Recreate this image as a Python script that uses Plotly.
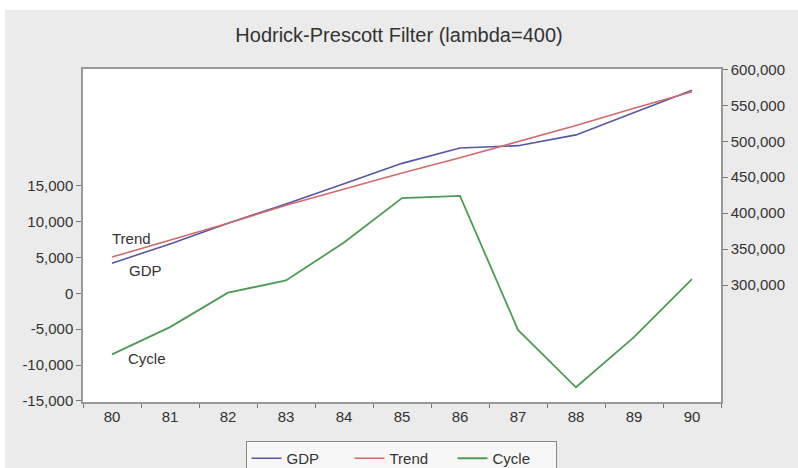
import plotly.graph_objects as go

years = ["80", "81", "82", "83", "84", "85", "86", "87", "88", "89", "90"]
gdp = [330500, 357300, 386100, 412800, 441100, 469300, 490600, 493900, 508900, 539900, 571000]
trend = [339000, 362000, 386000, 411000, 434000, 456000, 477000, 499000, 522000, 546000, 569000]
cycle = [-8500, -4700, 100, 1800, 7100, 13300, 13600, -5100, -13100, -6100, 2000]

left_ticks = [-15000, -10000, -5000, 0, 5000, 10000, 15000]
left_labels = ["-15,000", "-10,000", "-5,000", "0", "5,000", "10,000", "15,000"]
right_ticks = [300000, 350000, 400000, 450000, 500000, 550000, 600000]
right_labels = ["300,000", "350,000", "400,000", "450,000", "500,000", "550,000", "600,000"]

FONT = "Liberation Sans, Arial, sans-serif"
TXT = "#333333"

fig = go.Figure()
fig.add_trace(go.Scatter(x=years, y=gdp, name="GDP", mode="lines",
                         line=dict(color="#5656a8", width=1.6), yaxis="y2"))
fig.add_trace(go.Scatter(x=years, y=trend, name="Trend", mode="lines",
                         line=dict(color="#d36a6a", width=1.6), yaxis="y2"))
fig.add_trace(go.Scatter(x=years, y=cycle, name="Cycle", mode="lines",
                         line=dict(color="#4f9a55", width=1.8), yaxis="y"))

W, H = 798, 468
L, R, T, B = 83, 77, 69, 66
pw, ph = W - L - R, H - T - B

def px(x):
    return (x - L) / pw

def py(y):
    return (H - B - y) / ph

# white strips at the top and left edge of the screenshot
fig.add_shape(type="rect", xref="paper", yref="paper",
              x0=px(-5), x1=px(W + 5), y0=py(10), y1=py(-5),
              fillcolor="white", line=dict(width=0), layer="below")
fig.add_shape(type="rect", xref="paper", yref="paper",
              x0=px(-5), x1=px(5), y0=py(H + 5), y1=py(-5),
              fillcolor="white", line=dict(width=0), layer="below")

fig.update_layout(
    width=W, height=H,
    margin=dict(l=L, r=R, t=T, b=B, autoexpand=False),
    paper_bgcolor="#ebebeb", plot_bgcolor="white",
    font=dict(family=FONT, size=15, color=TXT),
    title=dict(text="Hodrick-Prescott Filter (lambda=400)", x=px(402), xanchor="center",
               y=1 - 35 / H, yanchor="middle", font=dict(size=20, color=TXT)),
    xaxis=dict(type="category", range=[-0.5, 10.5], tickson="boundaries",
               ticks="outside", ticklen=4, tickcolor="#777777",
               showline=True, linecolor="#999999", linewidth=1.5, mirror=True,
               showgrid=False, zeroline=False, tickfont=dict(size=15, color=TXT)),
    yaxis=dict(range=[-15150, 31300], tickvals=left_ticks, ticktext=left_labels,
               ticks="outside", ticklen=5, tickcolor="#777777",
               showline=True, linecolor="#999999", linewidth=1.5,
               showgrid=False, zeroline=False, tickfont=dict(size=15, color=TXT)),
    yaxis2=dict(range=[137500, 600500], tickvals=right_ticks, ticktext=right_labels,
                overlaying="y", side="right",
                ticks="outside", ticklen=5, tickcolor="#777777",
                showline=True, linecolor="#999999", linewidth=1.5,
                showgrid=False, zeroline=False, tickfont=dict(size=15, color=TXT)),
    showlegend=True,
    legend=dict(orientation="h", x=px(401), xanchor="center", y=py(441), yanchor="top",
                bgcolor="#f7f7f7", bordercolor="#888888", borderwidth=1,
                entrywidth=58, font=dict(size=15, color=TXT)),
)

fig.add_annotation(x=0, y=7600, xref="x", yref="y", text="Trend", showarrow=False,
                   xshift=19, font=dict(size=15, color=TXT))
fig.add_annotation(x=0, y=3200, xref="x", yref="y", text="GDP", showarrow=False,
                   xshift=33, font=dict(size=15, color=TXT))
fig.add_annotation(x=0, y=-9100, xref="x", yref="y", text="Cycle", showarrow=False,
                   xshift=35, font=dict(size=15, color=TXT))

fig.write_html("out.html", config={"displayModeBar": False},
               post_script="document.body.style.margin='0';document.body.style.overflow='hidden';")
